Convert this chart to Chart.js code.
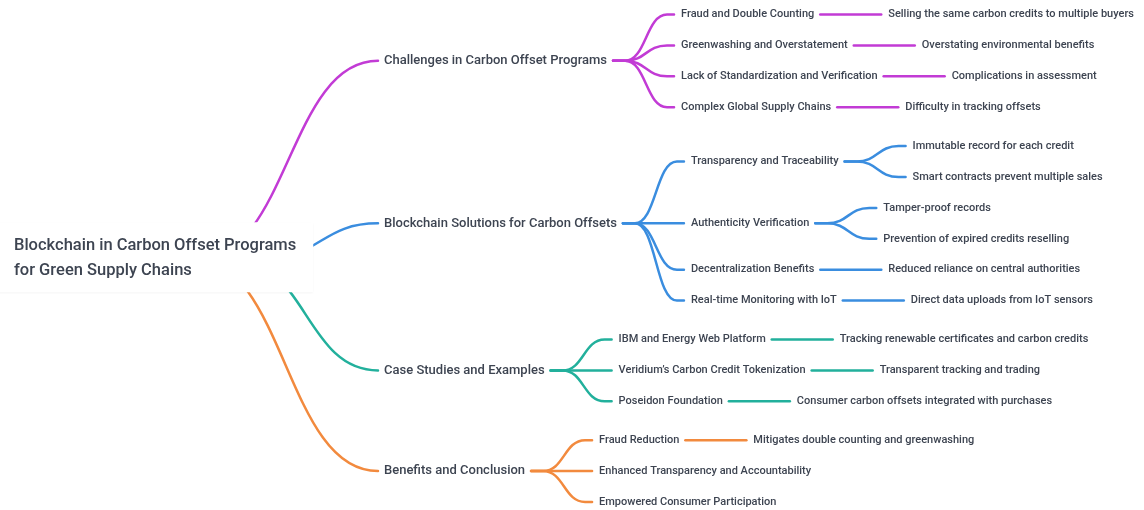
<!DOCTYPE html>
<html lang="en">
<head>
  <meta charset="UTF-8">
  <title>Blockchain in Carbon Offset Programs</title>
  <style>
    html, body { margin: 0; padding: 0; background: #fff; }
  </style>
</head>
<body>
  <div>
    <canvas id="myChart" width="1144" height="510"></canvas>
  </div>

  <script src="https://cdn.jsdelivr.net/npm/chart.js"></script>
  <script>
    // mind map content
    const rootTitle = ['Blockchain in Carbon Offset Programs', 'for Green Supply Chains'];
    const branches = [
      'Challenges in Carbon Offset Programs',
      'Blockchain Solutions for Carbon Offsets',
      'Case Studies and Examples',
      'Benefits and Conclusion'
    ];
    const branchColors = ['#c23bd5', '#3a8ddf', '#22b09c', '#f28a3e'];
    const topics = [
      ['Fraud and Double Counting', 'Greenwashing and Overstatement', 'Lack of Standardization and Verification', 'Complex Global Supply Chains'],
      ['Transparency and Traceability', 'Authenticity Verification', 'Decentralization Benefits', 'Real-time Monitoring with IoT'],
      ['IBM and Energy Web Platform', 'Veridium\u2019s Carbon Credit Tokenization', 'Poseidon Foundation'],
      ['Fraud Reduction', 'Enhanced Transparency and Accountability', 'Empowered Consumer Participation']
    ];
    const details = [
      [['Selling the same carbon credits to multiple buyers'], ['Overstating environmental benefits'], ['Complications in assessment'], ['Difficulty in tracking offsets']],
      [['Immutable record for each credit', 'Smart contracts prevent multiple sales'], ['Tamper-proof records', 'Prevention of expired credits reselling'], ['Reduced reliance on central authorities'], ['Direct data uploads from IoT sensors']],
      [['Tracking renewable certificates and carbon credits'], ['Transparent tracking and trading'], ['Consumer carbon offsets integrated with purchases']],
      [['Mitigates double counting and greenwashing'], [], []]
    ];

    const FONT = 'Roboto, "Noto Sans", sans-serif';
    const TEXT_COLOR = '#3d4451';
    const levelFont = [
      { size: 16.5, weight: 500 },
      { size: 13, weight: 500 },
      { size: 11, weight: 500 },
      { size: 11, weight: 500 }
    ];

    const measure = document.createElement('canvas').getContext('2d');
    function textWidth(t, depth) {
      const f = levelFont[depth];
      measure.font = f.weight + ' ' + f.size + 'px ' + FONT;
      return measure.measureText(t).width;
    }

    // layout: one row per leaf, parents centred on their leaves
    const rowH = 30.9, topRow = 14.5, branchGap = 8, colGap = 74;
    const rootX = 14, branchX = 384;
    const nodes = [];

    function buildNodes() {
      let row = 0;
      nodes.length = 0;
      const rootW = Math.max(...rootTitle.map(t => textWidth(t, 0)));
      nodes.push({ depth: 0, lines: rootTitle, x: rootX, y: 0, w: rootW, parent: -1, color: null });
      let minY = Infinity, maxY = -Infinity;
      branches.forEach((b, bi) => {
        const bw = textWidth(b, 1);
        const bIdx = nodes.length;
        nodes.push({ depth: 1, lines: [b], x: branchX, y: 0, w: bw, parent: 0, color: branchColors[bi] });
        const tx = branchX + bw + colGap;
        let bMin = Infinity, bMax = -Infinity;
        topics[bi].forEach((t, ti) => {
          const tw = textWidth(t, 2);
          const tIdx = nodes.length;
          nodes.push({ depth: 2, lines: [t], x: tx, y: 0, w: tw, parent: bIdx, color: branchColors[bi] });
          const leaves = details[bi][ti];
          const ys = [];
          if (leaves.length === 0) {
            ys.push(topRow + row * rowH + bi * branchGap); row++;
          }
          leaves.forEach(d => {
            const y = topRow + row * rowH + bi * branchGap; row++;
            ys.push(y);
            nodes.push({ depth: 3, lines: [d], x: tx + tw + colGap, y: y, w: textWidth(d, 3), parent: tIdx, color: branchColors[bi] });
          });
          nodes[tIdx].y = (ys[0] + ys[ys.length - 1]) / 2;
          bMin = Math.min(bMin, ys[0]); bMax = Math.max(bMax, ys[ys.length - 1]);
        });
        nodes[bIdx].y = (bMin + bMax) / 2;
        minY = Math.min(minY, bMin); maxY = Math.max(maxY, bMax);
      });
      nodes[0].y = (minY + maxY) / 2;
    }

    function curve(ctx, x0, y0, x1, y1) {
      const xm = (x0 + x1) / 2;
      ctx.moveTo(x0, y0);
      ctx.bezierCurveTo(xm, y0, xm, y1, x1, y1);
    }

    const mindMapPlugin = {
      id: 'mindMap',
      afterDatasetsDraw(chart) {
        const ctx = chart.ctx;
        const pts = chart.getDatasetMeta(0).data;
        ctx.save();
        ctx.lineCap = 'round';
        ctx.lineWidth = 2.5;

        // links
        nodes.forEach((n, i) => {
          if (n.parent < 0) return;
          const p = nodes[n.parent];
          const pp = pts[n.parent], cp = pts[i];
          ctx.strokeStyle = n.color;
          ctx.beginPath();
          if (p.depth === 0) {
            const dy = Math.abs(cp.y - pp.y);
            const x0 = cp.x - 6 - (100 + 0.4 * dy);
            curve(ctx, x0, pp.y, cp.x - 6, cp.y);
          } else {
            const sx = pp.x + p.w + 6;
            const siblings = nodes.filter(m => m.parent === n.parent).length;
            if (siblings === 1) {
              ctx.moveTo(sx, pp.y);
              ctx.lineTo(cp.x - 7, cp.y);
            } else {
              ctx.moveTo(sx, pp.y);
              ctx.lineTo(sx + 12, pp.y);
              curve(ctx, sx + 12, pp.y, cp.x - 14, cp.y);
              ctx.lineTo(cp.x - 7, cp.y);
            }
          }
          ctx.stroke();
        });

        // root card covering the link origins
        const r = nodes[0], rp = pts[0];
        ctx.save();
        ctx.fillStyle = '#ffffff';
        ctx.shadowColor = 'rgba(0,0,0,0.05)';
        ctx.shadowBlur = 2;
        ctx.shadowOffsetY = 1;
        ctx.fillRect(-10, rp.y - 36, rp.x + r.w + 27, 70);
        ctx.restore();

        // labels
        ctx.fillStyle = TEXT_COLOR;
        ctx.textBaseline = 'middle';
        ctx.textAlign = 'left';
        nodes.forEach((n, i) => {
          const f = levelFont[n.depth];
          ctx.font = f.weight + ' ' + f.size + 'px ' + FONT;
          const lh = 25;
          n.lines.forEach((line, li) => {
            const off = (li - (n.lines.length - 1) / 2) * lh;
            ctx.fillText(line, pts[i].x, pts[i].y + off);
          });
        });
        ctx.restore();
      }
    };

    function draw() {
      buildNodes();
      const config = {
        type: 'scatter',
        data: {
          datasets: [{
            label: 'nodes',
            data: nodes.map(n => ({ x: n.x, y: n.y })),
            pointRadius: 0,
            pointHoverRadius: 0
          }]
        },
        options: {
          responsive: false,
          maintainAspectRatio: false,
          animation: false,
          layout: { padding: 0 },
          events: [],
          plugins: {
            legend: { display: false },
            tooltip: { enabled: false }
          },
          scales: {
            x: { type: 'linear', min: 0, max: 1144, display: false },
            y: { type: 'linear', min: 0, max: 510, reverse: true, display: false }
          }
        },
        plugins: [mindMapPlugin]
      };
      new Chart(document.getElementById('myChart'), config);
    }

    if (document.fonts && document.fonts.load) {
      Promise.all([
        document.fonts.load('500 13px Roboto'),
        document.fonts.load('500 17px Roboto')
      ]).then(draw, draw);
    } else {
      draw();
    }
  </script>
</body>
</html>
